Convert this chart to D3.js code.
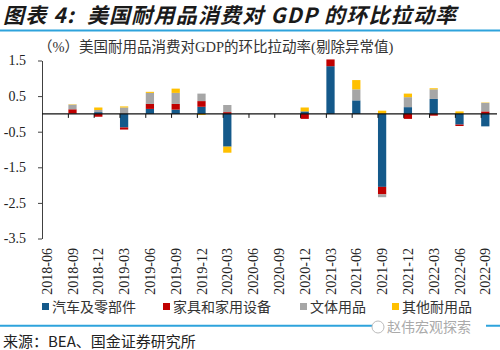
<!DOCTYPE html>
<html>
<head>
<meta charset="utf-8">
<script src="https://cdn.jsdelivr.net/npm/d3@7"></script>
<style>
  body { margin: 0; background: #fff; }
  svg { display: block; }
</style>
</head>
<body>
<svg width="500" height="350"></svg>
<script>
// 季度
const categories = ['2018-06', '2018-09', '2018-12', '2019-03', '2019-06', '2019-09', '2019-12', '2020-03',
    '2020-06', '2020-09', '2020-12', '2021-03', '2021-06', '2021-09', '2021-12', '2022-03', '2022-06', '2022-09'];

// 各分项拉动率 (%), null = 剔除的异常值
const autoParts = [null, 0.01, 0.05, -0.38, 0.14, 0.12, 0.20, -0.92, null, null, 0.07, 1.34, 0.38, -2.05, 0.19, 0.42, -0.30, -0.35];
const furnishings = [null, 0.12, -0.08, -0.06, 0.14, 0.16, 0.16, 0.05, null, null, -0.14, 0.19, 0.00, -0.21, -0.14, -0.05, -0.04, 0.07];
const recreational = [null, 0.13, 0.06, 0.18, 0.31, 0.31, 0.21, 0.20, null, null, 0.00, 0.00, 0.31, -0.08, 0.28, 0.27, 0.00, 0.24];
const otherDurables = [null, 0.01, 0.07, 0.03, 0.03, 0.12, -0.03, -0.17, null, null, 0.11, 0.00, 0.26, 0.09, 0.10, 0.03, 0.07, 0.01];

const seriesNames = ['汽车及零部件', '家具和家用设备', '文体用品', '其他耐用品'];
const seriesValues = [autoParts, furnishings, recreational, otherDurables];
const yTicks = [1.5, 0.5, -0.5, -1.5, -2.5, -3.5];

const colors = ['#14598a', '#c00000', '#a6a6a6', '#ffc000'];
const serif = '"Liberation Serif", "Noto Sans CJK SC", serif';
const sans = '"Noto Sans CJK SC", "Liberation Sans", sans-serif';

const svg = d3.select('svg');

const rows = categories.map((c, i) => {
    const o = { cat: c };
    seriesNames.forEach((k, j) => { o[k] = seriesValues[j][i]; });
    return o;
});

const x = d3.scaleBand()
    .domain(categories)
    .range([33.8, 498.2])
    .paddingInner(0.68)
    .paddingOuter(0.34);

const y = d3.scaleLinear()
    .domain([-3.5, 1.5])
    .range([238.5, 60.5]);

const color = d3.scaleOrdinal().domain(seriesNames).range(colors);

const stack = d3.stack()
    .keys(seriesNames)
    .value((d, k) => d[k] == null ? 0 : d[k])
    .order(d3.stackOrderNone)
    .offset(d3.stackOffsetDiverging);
const series = stack(rows);

// 标题
svg.append('text')
    .attr('x', 3).attr('y', 23)
    .attr('font-family', sans)
    .attr('font-size', '21px')
    .attr('font-weight', 'bold')
    .attr('font-style', 'italic')
    .attr('letter-spacing', '1.2px')
    .attr('fill', '#1a1a1a')
    .attr('xml:space', 'preserve')
    .text('图表 4:  美国耐用品消费对 GDP 的环比拉动率');

svg.append('line')
    .attr('x1', 0).attr('x2', 500).attr('y1', 30.5).attr('y2', 30.5)
    .attr('stroke', '#2ea3dc').attr('stroke-width', 2);

svg.append('text')
    .attr('x', 38).attr('y', 52)
    .attr('font-family', serif)
    .attr('font-size', '14.5px')
    .attr('fill', '#333')
    .text('（%）美国耐用品消费对GDP的环比拉动率(剔除异常值)');

// 柱子
svg.append('g')
    .selectAll('g')
    .data(series)
    .join('g')
        .attr('fill', d => color(d.key))
    .selectAll('rect')
    .data(d => d.filter(p => p[1] !== p[0]))
    .join('rect')
        .attr('x', d => x(d.data.cat))
        .attr('width', x.bandwidth())
        .attr('y', d => y(Math.max(d[0], d[1])))
        .attr('height', d => Math.abs(y(d[0]) - y(d[1])));

// y 轴
const yAxis = svg.append('g')
    .attr('transform', 'translate(42,0)')
    .call(d3.axisLeft(y).tickValues(yTicks).tickFormat(d3.format('.1f')).tickSize(4).tickPadding(12).tickSizeOuter(0));
yAxis.select('.domain').attr('stroke', '#404040');
yAxis.selectAll('.tick line').attr('stroke', '#404040');
yAxis.selectAll('.tick text')
    .attr('font-family', serif)
    .attr('font-size', '14px')
    .attr('fill', '#222')
    .text(d => d3.format('.1f')(d).replace('−', '-'));

// 零轴 + 刻度
const x0 = y(0);
svg.append('line')
    .attr('x1', 42).attr('x2', 497).attr('y1', x0).attr('y2', x0)
    .attr('stroke', '#111').attr('stroke-width', 1.2);
svg.append('g')
    .selectAll('line')
    .data(categories.slice(1))
    .join('line')
        .attr('x1', d => x(d)).attr('x2', d => x(d))
        .attr('y1', x0).attr('y2', x0 + 4)
        .attr('stroke', '#111');

// x 标签 (底部)
svg.append('g')
    .selectAll('text')
    .data(categories)
    .join('text')
        .attr('transform', d => `translate(${x(d) + x.bandwidth() / 2 + 5},248) rotate(-90)`)
        .attr('text-anchor', 'end')
        .attr('font-family', serif)
        .attr('font-size', '14px')
        .attr('fill', '#222')
        .text(d => d);

// 图例
const legendX = [42, 163, 300, 392];
const legend = svg.append('g');
seriesNames.forEach((k, i) => {
    const item = legend.append('g').attr('transform', `translate(${legendX[i]},303)`);
    item.append('rect').attr('width', 7).attr('height', 7).attr('fill', color(k));
    item.append('text')
        .attr('x', 10).attr('y', 8.5)
        .attr('font-family', serif)
        .attr('font-size', '14px')
        .attr('fill', '#333')
        .text(k);
});

// 底部
svg.append('line')
    .attr('x1', 0).attr('x2', 500).attr('y1', 325.7).attr('y2', 325.7)
    .attr('stroke', '#2ea3dc').attr('stroke-width', 2);
svg.append('rect')
    .attr('x', 372).attr('y', 318).attr('width', 114).attr('height', 18).attr('fill', '#fff');
svg.append('circle')
    .attr('cx', 378).attr('cy', 327).attr('r', 6)
    .attr('fill', 'none').attr('stroke', '#bbb').attr('stroke-width', 1);
svg.append('text')
    .attr('x', 387).attr('y', 332)
    .attr('font-family', sans)
    .attr('font-size', '14px')
    .attr('fill', '#aaa')
    .text('赵伟宏观探索');

svg.append('text')
    .attr('x', 3).attr('y', 347)
    .attr('font-family', sans)
    .attr('font-size', '15px')
    .attr('fill', '#222')
    .text('来源：BEA、国金证券研究所');
</script>
</body>
</html>
